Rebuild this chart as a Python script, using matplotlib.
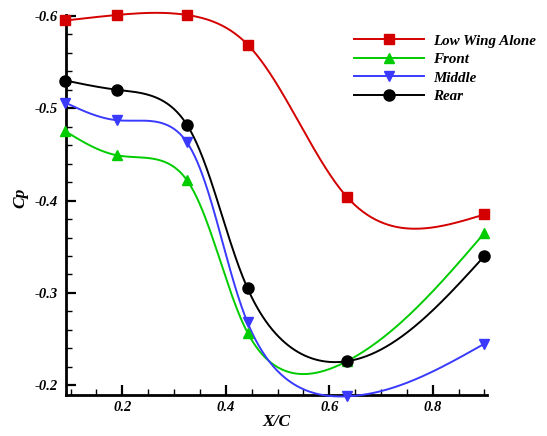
import numpy as np
import matplotlib
matplotlib.use("Agg")
import matplotlib.pyplot as plt
from matplotlib.ticker import MultipleLocator, FixedLocator

# Chordwise stations and pressure coefficients
x_c = [0.09, 0.19, 0.325, 0.442, 0.634, 0.90]
cp_alone = [-0.595, -0.601, -0.601, -0.569, -0.404, -0.385]
cp_front = [-0.475, -0.449, -0.422, -0.257, -0.226, -0.365]
cp_middle = [-0.506, -0.487, -0.463, -0.268, -0.188, -0.245]
cp_rear = [-0.530, -0.520, -0.482, -0.305, -0.226, -0.340]

series_names = ["Low Wing Alone", "Front", "Middle", "Rear"]
x_ticks = [0.2, 0.4, 0.6, 0.8]
y_ticks = [-0.6, -0.5, -0.4, -0.3, -0.2]

XLIM = (0.0912, 0.904)
YLIM = (-0.1892, -0.601)
AX_RECT = [0.1207, 0.0935, 0.7688, 0.8722]
FIG_W, FIG_H, DPI = 5.47, 4.36, 100
CP_WEIGHT = 0.6  # weight of Cp differences in the curve parameter


def natural_spline_eval(t, y, ts):
    """Evaluate the natural cubic spline through (t, y) at ts."""
    t = np.asarray(t, float)
    y = np.asarray(y, float)
    m = len(t)
    h = np.diff(t)
    A = np.zeros((m, m))
    b = np.zeros(m)
    A[0, 0] = A[-1, -1] = 1.0
    for i in range(1, m - 1):
        A[i, i - 1] = h[i - 1]
        A[i, i] = 2 * (h[i - 1] + h[i])
        A[i, i + 1] = h[i]
        b[i] = 6 * ((y[i + 1] - y[i]) / h[i] - (y[i] - y[i - 1]) / h[i - 1])
    M = np.linalg.solve(A, b)
    idx = np.clip(np.searchsorted(t, ts) - 1, 0, m - 2)
    t0, t1 = t[idx], t[idx + 1]
    hh = t1 - t0
    a0, a1 = t1 - ts, ts - t0
    return (M[idx] * a0 ** 3 + M[idx + 1] * a1 ** 3) / (6 * hh) \
        + (y[idx] / hh - M[idx] * hh / 6) * a0 \
        + (y[idx + 1] / hh - M[idx + 1] * hh / 6) * a1


def parametric_spline(x, y, n=400):
    """Chord-length parametric spline through the stations."""
    x = np.asarray(x, float)
    y = np.asarray(y, float)
    seg = np.hypot(np.diff(x), CP_WEIGHT * np.diff(y))
    t = np.concatenate([[0.0], np.cumsum(seg)])
    ts = np.linspace(0.0, t[-1], n)
    return natural_spline_eval(t, x, ts), natural_spline_eval(t, y, ts)


plt.rcParams["font.family"] = ["Liberation Serif", "DejaVu Serif"]

fig = plt.figure(figsize=(FIG_W, FIG_H), dpi=DPI)
ax = fig.add_axes(AX_RECT)

styles = [
    dict(color="#d40000", marker="s", ms=6.5),
    dict(color="#00cc00", marker="^", ms=7),
    dict(color="#3a3aff", marker="v", ms=7),
    dict(color="#000000", marker="o", ms=8),
]
data = [cp_alone, cp_front, cp_middle, cp_rear]

for name, cp, st in zip(series_names, data, styles):
    xs, ys = parametric_spline(x_c, cp)
    ax.plot(xs, ys, color=st["color"], lw=1.4, clip_on=False, zorder=3)
    ax.plot(x_c, cp, linestyle="none", marker=st["marker"], ms=st["ms"],
            color=st["color"], clip_on=False, zorder=4)
    ax.plot([], [], color=st["color"], lw=1.4, marker=st["marker"],
            ms=st["ms"], label=name)

ax.set_xlim(*XLIM)
ax.set_ylim(*YLIM)

for side in ("top", "right"):
    ax.spines[side].set_visible(False)
for side in ("left", "bottom"):
    ax.spines[side].set_linewidth(2.0)

ax.xaxis.set_major_locator(FixedLocator(x_ticks))
ax.yaxis.set_major_locator(FixedLocator(y_ticks))
ax.xaxis.set_minor_locator(MultipleLocator(0.05))
ax.yaxis.set_minor_locator(MultipleLocator(0.02))
ax.tick_params(which="major", direction="in", length=7.5, width=1.6,
               labelsize=10.5)
ax.tick_params(axis="x", which="major", pad=4.5)
ax.tick_params(axis="y", which="major", pad=6)
ax.tick_params(which="minor", direction="in", length=4.2, width=1.0)
ax.set_xticklabels([f"{t:.1f}" for t in x_ticks], fontweight="bold",
                   fontstyle="italic")
ax.set_yticklabels([f"{t:.1f}" for t in y_ticks], fontweight="bold",
                   fontstyle="italic")

ax.set_xlabel("X/C", fontsize=12.5, fontweight="bold", fontstyle="italic",
              labelpad=0)
ax.set_ylabel("Cp", fontsize=12.5, fontweight="bold", fontstyle="italic")
ax.yaxis.set_label_coords(-0.089, 0.519)

leg = ax.legend(loc="upper right", bbox_to_anchor=(1.15, 0.985), frameon=False,
                prop=dict(weight="bold", style="italic", size=10.8),
                handlelength=4.7, handletextpad=0.6, labelspacing=0.33)

fig.savefig("out.png", dpi=DPI)
